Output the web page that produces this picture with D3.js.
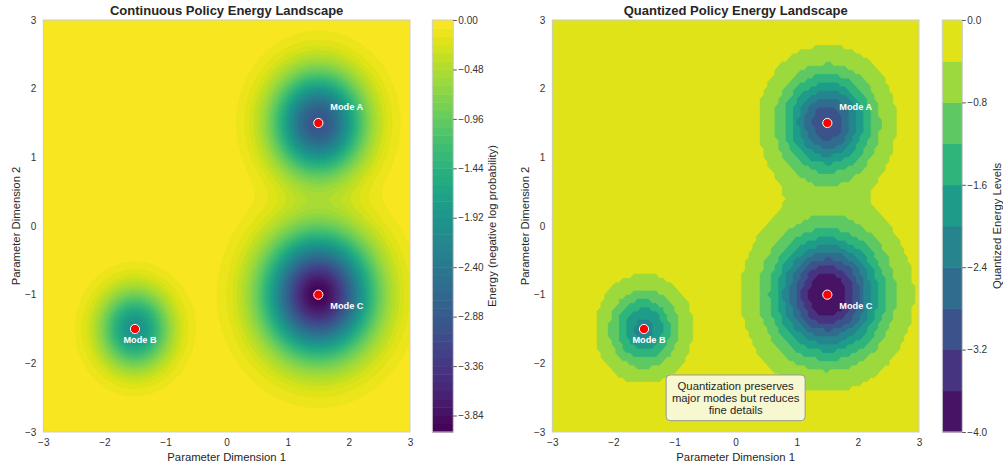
<!DOCTYPE html>
<html>
<head>
<meta charset="utf-8">
<script src="https://cdn.jsdelivr.net/npm/d3@7"></script>
<style>
  body { margin: 0; background: #fff; }
  text { font-family: "Liberation Sans", Arial, sans-serif; }
</style>
</head>
<body>
<svg id="chart" width="1003" height="468"></svg>
<script>
// the three modes of the policy landscape
const modeNames = ["Mode A", "Mode B", "Mode C"];
const modeX = [1.5, -1.5, 1.5];
const modeY = [1.5, -1.5, -1.0];
const modeDepth = [3.0, 2.0, 4.0];
const modeSpread = [0.5, 0.3, 0.7];

// axis ticks and colorbar ticks
const axisTicks = [-3, -2, -1, 0, 1, 2, 3];
const contTicks = [0, -0.48, -0.96, -1.44, -1.92, -2.40, -2.88, -3.36, -3.84];
const quantTicks = [0, -0.8, -1.6, -2.4, -3.2, -4.0];

// contour levels
const energyMin = -4, energyMax = 0;
const contStep = 0.08;
const quantStep = 0.4;
const contLevels = d3.range(energyMin, energyMax - 1e-9, contStep);
const quantLevels = d3.range(energyMin, energyMax - 1e-9, quantStep);

const svg = d3.select("#chart");
const color = d3.scaleSequential(d3.interpolateViridis).domain([energyMin, energyMax]);

// energy at one point: sum of negative gaussian wells
function energy(x, y) {
  let e = 0;
  for (let i = 0; i < modeNames.length; i++) {
    const d2 = (x - modeX[i]) ** 2 + (y - modeY[i]) ** 2;
    e -= modeDepth[i] * Math.exp(-d2 / modeSpread[i]);
  }
  return e;
}

// sample on an n x n grid, optionally rounded to the quantization step
function sampleGrid(n, quant) {
  const g = d3.scaleLinear().domain([0, n - 1]).range([-3, 3]);
  const values = new Array(n * n);
  for (let j = 0; j < n; j++) {
    for (let i = 0; i < n; i++) {
      let e = energy(g(i), -g(j));
      if (quant) e = Math.round(e / quant) * quant;
      values[j * n + i] = e;
    }
  }
  return values;
}

function drawPanel(opt) {
  const { x0, x1, y0, y1, n, levels, step, quant } = opt;
  const xScale = d3.scaleLinear().domain([-3, 3]).range([x0, x1]);
  const yScale = d3.scaleLinear().domain([-3, 3]).range([y1, y0]);
  // contour coords: sample k sits at k + 0.5
  const gx = d3.scaleLinear().domain([0.5, n - 0.5]).range([-3, 3]);
  const gy = d3.scaleLinear().domain([0.5, n - 0.5]).range([3, -3]);

  const path = d3.geoPath(d3.geoTransform({
    point(x, y) { this.stream.point(xScale(gx(x)), yScale(gy(y))); }
  }));

  const values = sampleGrid(n, quant);
  const bands = d3.contours().size([n, n])
    .thresholds(levels.map(l => l + 1e-6))(values);

  const g = svg.append("g");
  const clipId = "clip" + Math.round(x0);
  g.append("clipPath").attr("id", clipId)
    .append("rect").attr("x", x0).attr("y", y0)
    .attr("width", x1 - x0).attr("height", y1 - y0);

  const plot = g.append("g").attr("clip-path", `url(#${clipId})`);
  plot.append("rect")
    .attr("x", x0).attr("y", y0)
    .attr("width", x1 - x0).attr("height", y1 - y0)
    .attr("fill", color(energyMin + step / 2));
  plot.selectAll("path")
    .data(bands)
    .join("path")
    .attr("d", path)
    .attr("fill", d => color(d.value + step / 2))
    .attr("stroke", d => color(d.value + step / 2))
    .attr("stroke-width", 0.3);

  // frame
  g.append("rect")
    .attr("x", x0).attr("y", y0)
    .attr("width", x1 - x0).attr("height", y1 - y0)
    .attr("fill", "none").attr("stroke", "#cccccc").attr("stroke-width", 1);

  // axes
  const xAxis = g.append("g")
    .attr("transform", `translate(0,${y1})`)
    .call(d3.axisBottom(xScale).tickValues(axisTicks).tickFormat(d3.format("d")).tickSize(0).tickPadding(7));
  const yAxis = g.append("g")
    .attr("transform", `translate(${x0},0)`)
    .call(d3.axisLeft(yScale).tickValues(axisTicks).tickFormat(d3.format("d")).tickSize(0).tickPadding(7));
  [xAxis, yAxis].forEach(a => {
    a.select(".domain").remove();
    a.selectAll("text").attr("font-size", 10).attr("fill", "#333")
      .style("font-family", '"Liberation Sans", Arial, sans-serif');
  });

  g.append("text")
    .attr("x", (x0 + x1) / 2).attr("y", 461)
    .attr("text-anchor", "middle").attr("font-size", 11.3).attr("fill", "#262626")
    .text("Parameter Dimension 1");
  g.append("text")
    .attr("transform", `translate(${x0 - 27},${(y0 + y1) / 2}) rotate(-90)`)
    .attr("dy", "0.35em")
    .attr("text-anchor", "middle").attr("font-size", 11.3).attr("fill", "#262626")
    .text("Parameter Dimension 2");

  g.append("text")
    .attr("x", (x0 + x1) / 2).attr("y", 15)
    .attr("text-anchor", "middle").attr("font-size", 13).attr("font-weight", "bold")
    .attr("fill", "#262626")
    .text(opt.title);

  // mode markers and labels
  const labelOffset = { "Mode A": [12, -13, "start"], "Mode B": [5, 14, "middle"], "Mode C": [12, 14, "start"] };
  modeNames.forEach((name, i) => {
    const px = xScale(modeX[i]), py = yScale(modeY[i]);
    g.append("circle")
      .attr("cx", px).attr("cy", py).attr("r", 4.6)
      .attr("fill", "#ff0000").attr("stroke", "#fff").attr("stroke-width", 1);
    const off = labelOffset[name];
    g.append("text")
      .attr("x", px + off[0]).attr("y", py + off[1])
      .attr("text-anchor", off[2])
      .attr("font-size", 9.2).attr("font-weight", "bold").attr("fill", "#fff")
      .text(name);
  });

  // colorbar
  const cb = opt.cb;
  const cbScale = d3.scaleLinear().domain([energyMax, energyMin]).range([y0, y1]);
  const cbg = svg.append("g");
  cbg.selectAll("rect")
    .data(levels)
    .join("rect")
    .attr("x", cb.x0).attr("width", cb.x1 - cb.x0)
    .attr("y", d => cbScale(d + step))
    .attr("height", d => cbScale(d) - cbScale(d + step) + 0.5)
    .attr("fill", d => color(d + step / 2));
  cbg.append("rect")
    .attr("x", cb.x0).attr("y", y0)
    .attr("width", cb.x1 - cb.x0).attr("height", y1 - y0)
    .attr("fill", "none").attr("stroke", "#cccccc").attr("stroke-width", 1);
  const cbAxis = cbg.append("g")
    .attr("transform", `translate(${cb.x1},0)`)
    .call(d3.axisRight(cbScale).tickValues(cb.ticks).tickFormat(d3.format(cb.fmt)).tickSize(3.5).tickPadding(1.5));
  cbAxis.select(".domain").remove();
  cbAxis.selectAll("line").attr("stroke", "#555");
  cbAxis.selectAll("text").attr("font-size", 10).attr("fill", "#333")
    .style("font-family", '"Liberation Sans", Arial, sans-serif');
  cbg.append("text")
    .attr("transform", `translate(${cb.labelX},${(y0 + y1) / 2}) rotate(-90)`)
    .attr("dy", "0.35em")
    .attr("text-anchor", "middle").attr("font-size", 11.3).attr("fill", "#262626")
    .text(cb.label);

  return { xScale, yScale, g };
}

drawPanel({
  title: "Continuous Policy Energy Landscape",
  x0: 43.3, x1: 410, y0: 20, y1: 432,
  n: 240, levels: contLevels, step: contStep, quant: 0,
  cb: { x0: 432.3, x1: 453.3, ticks: contTicks, fmt: ".2f", labelX: 491.7,
        label: "Energy (negative log probability)" }
});

const right = drawPanel({
  title: "Quantized Policy Energy Landscape",
  x0: 552.3, x1: 919, y0: 20, y1: 432,
  n: 100, levels: quantLevels, step: quantStep, quant: quantStep,
  cb: { x0: 942.3, x1: 962.3, ticks: quantTicks, fmt: ".1f", labelX: 996.7,
        label: "Quantized Energy Levels" }
});

// note box in the quantized panel
const noteLines = ["Quantization preserves", "major modes but reduces", "fine details"];
const bx = right.xScale(0), by = right.yScale(-2.5);
right.g.append("rect")
  .attr("x", bx - 69.5).attr("y", by - 22.7)
  .attr("width", 139).attr("height", 45.7)
  .attr("rx", 4)
  .attr("fill", "#f7f7d0").attr("stroke", "#999").attr("stroke-width", 1);
right.g.selectAll("text.note")
  .data(noteLines)
  .join("text")
  .attr("class", "note")
  .attr("x", bx).attr("y", (d, i) => by - 12 + i * 12)
  .attr("dy", "0.35em")
  .attr("text-anchor", "middle").attr("font-size", 11.3).attr("fill", "#262626")
  .text(d => d);
</script>
</body>
</html>
